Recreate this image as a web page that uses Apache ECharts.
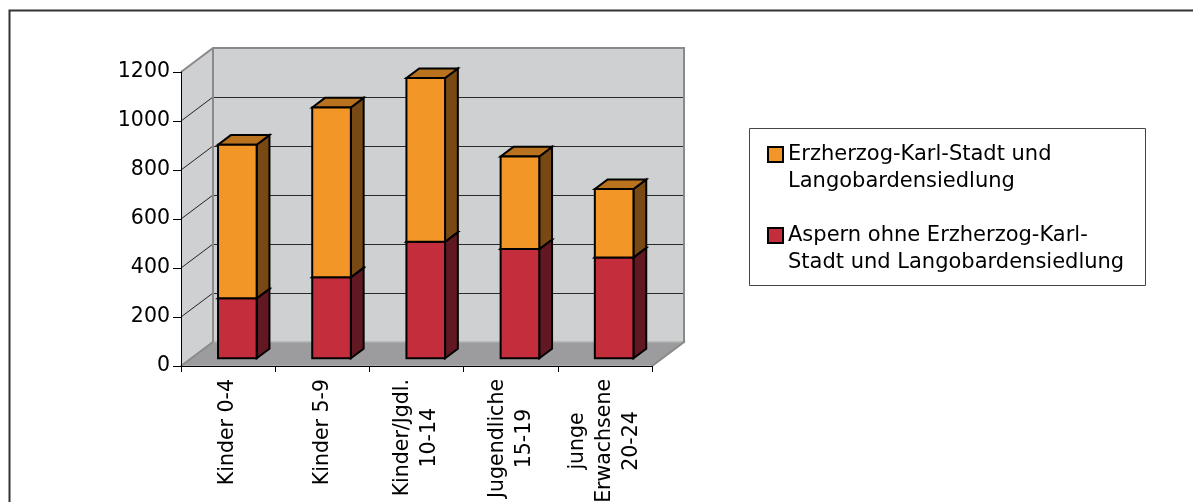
<!DOCTYPE html>
<html>
<head>
<meta charset="utf-8">
<script src="https://cdn.jsdelivr.net/npm/echarts@6/dist/echarts.min.js"></script>
<style>
  html, body { margin: 0; padding: 0; background: #fff; }
  #chart { width: 1193px; height: 502px; }
</style>
</head>
<body>
<div id="chart"></div>
<script>
// categories and values
var categories = ['Kinder 0-4', 'Kinder 5-9', 'Kinder/Jgdl.\n10-14', 'Jugendliche\n15-19', 'junge\nErwachsene\n20-24']
var aspernValues = [245, 331, 476, 446, 412]
var ekstValues = [627, 693, 668, 378, 279]
var yTicks = [0, 200, 400, 600, 800, 1000, 1200]
var seriesNames = ['Aspern ohne Erzherzog-Karl-\nStadt und Langobardensiedlung', 'Erzherzog-Karl-Stadt und\nLangobardensiedlung']

var FONT = 'DejaVu Sans'
// fake 3d: depth offset of the back wall, and where the bars sit in depth
var DX = 32, DY = -24
var F0 = 0.32, F1 = 0.72
var BAR_RATIO = 0.41

var chart = echarts.init(document.getElementById('chart'))

function crisp(v) { return Math.round(v) + 0.5 }

// walls + floor, drawn from the grid rect and the y scale
function renderWalls(params, api) {
  var cs = params.coordSys
  var l = cs.x, t = cs.y, r = cs.x + cs.width, b = cs.y + cs.height
  var wallFill = '#cfd0d2', edge = '#8a8a8a'
  var children = [
    { type: 'polygon', shape: { points: [[l, b], [l, t], [l + DX, t + DY], [l + DX, b + DY]] },
      style: { fill: wallFill, stroke: null } },
    { type: 'rect', shape: { x: l + DX, y: t + DY, width: cs.width, height: cs.height },
      style: { fill: wallFill, stroke: null } },
    { type: 'polygon', shape: { points: [[l, b], [l + DX, b + DY], [r + DX, b + DY], [r, b]] },
      style: { fill: '#9c9c9e', stroke: '#b0b0b0', lineWidth: 1.5 } }
  ]
  yTicks.forEach(function (v) {
    var y = api.coord([0, v])[1]
    if (v === 0 || v === yTicks[yTicks.length - 1]) return
    children.push({ type: 'line', shape: { x1: l, y1: y, x2: l + DX, y2: y + DY },
      style: { stroke: '#222', lineWidth: 1 } })
    children.push({ type: 'line', shape: { x1: l + DX, y1: crisp(y + DY), x2: r + DX, y2: crisp(y + DY) },
      style: { stroke: '#2a2a2a', lineWidth: 1 } })
  })
  // wall edges
  children.push({ type: 'polyline', shape: { points: [[l, t], [l + DX, t + DY], [r + DX, t + DY], [r + DX, b + DY], [r, b]] },
    style: { stroke: edge, lineWidth: 2, fill: null } })
  children.push({ type: 'line', shape: { x1: l + DX, y1: t + DY, x2: l + DX, y2: b + DY },
    style: { stroke: edge, lineWidth: 2 } })
  children.push({ type: 'line', shape: { x1: l, y1: b, x2: l + DX, y2: b + DY },
    style: { stroke: edge, lineWidth: 2 } })
  return { type: 'group', children: children }
}

function makeBar(front, side, top) {
  return function (params, api) {
    var cat = api.value(0)
    var p0 = api.coord([cat, api.value(1)])
    var p1 = api.coord([cat, api.value(2)])
    var bw = api.size([1, 0])[0] * BAR_RATIO
    var x0 = p0[0] - bw / 2 + DX * F0 - 1
    var x1 = x0 + bw
    var yb = p0[1] + DY * F0
    var yt = p1[1] + DY * F0
    var bx = DX * (F1 - F0), by = DY * (F1 - F0)
    var st = { stroke: '#000', lineWidth: 2, lineJoin: 'miter' }
    return {
      type: 'group',
      children: [
        { type: 'polygon', shape: { points: [[x1, yb], [x1, yt], [x1 + bx, yt + by], [x1 + bx, yb + by]] },
          style: Object.assign({ fill: side }, st) },
        { type: 'polygon', shape: { points: [[x0, yt], [x0 + bx, yt + by], [x1 + bx, yt + by], [x1, yt]] },
          style: Object.assign({ fill: top }, st) },
        { type: 'rect', shape: { x: x0, y: yt, width: bw, height: yb - yt },
          style: Object.assign({ fill: front }, st) }
      ]
    }
  }
}

var aspernData = aspernValues.map(function (v, i) { return [i, 0, v] })
var ekstData = ekstValues.map(function (v, i) { return [i, aspernValues[i], aspernValues[i] + v] })

var option = {
  animation: false,
  backgroundColor: '#fff',
  grid: { left: 181, top: 72, width: 471, height: 294, outerBoundsMode: 'none', containLabel: false },
  xAxis: {
    type: 'category',
    data: categories,
    z: 5,
    axisLine: { lineStyle: { color: '#000', width: 1 } },
    axisTick: { show: true, length: 6, interval: 0, lineStyle: { color: '#000' } },
    axisLabel: {
      rotate: 90,
      interval: 0,
      margin: 13,
      color: '#000',
      hideOverlap: false,
      formatter: function (v) {
        return v.split('\n').map(function (s) { return '{c|' + s + '}' }).join('\n')
      },
      rich: { c: { align: 'center', fontSize: 20.5, lineHeight: 27, fontFamily: FONT, color: '#000' } }
    },
    splitLine: { show: false }
  },
  yAxis: {
    type: 'value',
    min: 0,
    max: 1200,
    interval: 200,
    z: 5,
    axisLine: { show: true, lineStyle: { color: '#000', width: 1 } },
    axisTick: { show: true, length: 8, lineStyle: { color: '#000' } },
    axisLabel: { fontSize: 20.5, fontFamily: FONT, color: '#000', margin: 11,
      formatter: function (v) { return String(v) } },
    splitLine: { show: false }
  },
  legend: {
    orient: 'vertical',
    left: 767,
    top: 114,
    padding: 0,
    itemGap: 0,
    itemWidth: 15,
    itemHeight: 15,
    icon: 'rect',
    selectedMode: false,
    data: [seriesNames[1], seriesNames[0]],
    // leading empty line so the icon sits next to the first text line
    formatter: function (name) { return '\n' + name },
    itemStyle: { borderColor: '#000', borderWidth: 2 },
    textStyle: { fontSize: 21, fontFamily: FONT, color: '#000', lineHeight: 27 }
  },
  graphic: [
    { type: 'rect', left: 7, top: 8, silent: true,
      shape: { x: 0, y: 0, width: 1300, height: 700 },
      style: { fill: null, stroke: '#333', lineWidth: 2 } },
    { type: 'rect', left: 747, top: 126, silent: true,
      shape: { x: 0.5, y: 0.5, width: 396, height: 157 },
      style: { fill: null, stroke: '#444', lineWidth: 1 } }
  ],
  series: [
    { type: 'custom', name: 'walls', z: 1, silent: true, data: [0], renderItem: renderWalls },
    { type: 'custom', name: seriesNames[0], z: 2, data: aspernData, encode: { x: 0, y: [1, 2] },
      itemStyle: { color: '#c42d3c' }, renderItem: makeBar('#c42d3c', '#621822', '#8a1f2a') },
    { type: 'custom', name: seriesNames[1], z: 3, data: ekstData, encode: { x: 0, y: [1, 2] },
      itemStyle: { color: '#f29727' }, renderItem: makeBar('#f29727', '#784912', '#b9721e') }
  ]
}

option && chart.setOption(option)
</script>
</body>
</html>
